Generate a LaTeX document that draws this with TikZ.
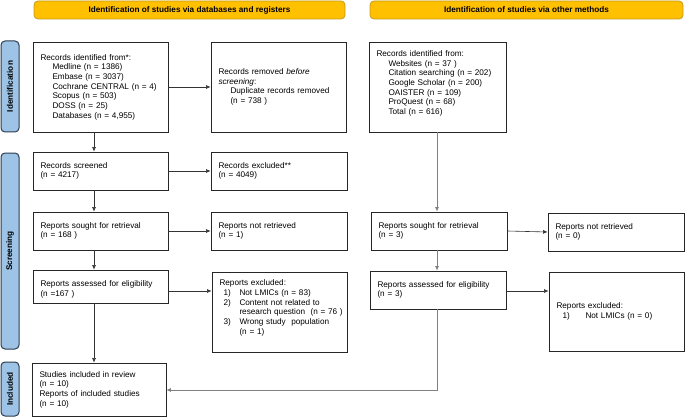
\documentclass[tikz,border=0pt]{standalone}
\usepackage{fontspec}
\setmainfont{Liberation Sans}
\usetikzlibrary{arrows.meta}
\definecolor{gold}{HTML}{FFC000}
\definecolor{goldline}{HTML}{C49A1A}
\definecolor{sideblue}{HTML}{9DC3E6}
\definecolor{sideline}{HTML}{2E3B4E}
\newcommand\fs{\fontsize{8.2}{9.7}\selectfont}
\newcommand\ind{\hspace*{12pt}}
\newcommand\pbox[6]{%
  \pgfmathsetmacro\bw{#4-#2}\pgfmathsetmacro\bh{#5-#3}%
  \pgfmathsetmacro\bcx{(#2+#4)/2}\pgfmathsetmacro\bcy{(#3+#5)/2}%
  \pgfmathsetmacro\tw{#4-#2-15}%
  \node[box,minimum width=\bw pt,minimum height=\bh pt,text width=\tw pt] (#1) at (\bcx,\bcy) {#6};}
\begin{document}
\begin{tikzpicture}[x=1pt,y=-1pt,
  box/.style={draw=black!85,line width=0.8pt,inner xsep=7pt,inner ysep=0pt,align=left,font=\fs},
  banner/.style={draw=goldline,fill=gold,line width=0.8pt,rounded corners=4pt,font=\fs\bfseries,inner sep=0pt},
  side/.style={draw=sideline,fill=sideblue,line width=1pt,rounded corners=4pt,font=\fs\bfseries,rotate=90,inner sep=0pt,minimum height=18pt},
  arr/.style={draw=black!80,line width=0.6pt,-{Latex[length=4.5pt,width=4pt]}},
  arrg/.style={draw=black!50,line width=0.7pt,-{Latex[length=4.5pt,width=4pt]}}]
\useasboundingbox (0,0) rectangle (685,417);
% banners
\node[banner,minimum width=311pt,minimum height=18pt] (ban1) at (189.5,10) {Identification of studies via databases and registers};
\node[banner,minimum width=313pt,minimum height=18pt] (ban2) at (526.5,10) {Identification of studies via other methods};
% side labels
\node[side,minimum width=91pt] (sid1) at (10,86.5) {Identification};
\node[side,minimum width=196pt] (sid2) at (10,251) {Screening};
\node[side,minimum width=54pt] (sid3) at (10,389) {Included};
% left column
\pbox{recA}{33}{42}{168}{132}{Records identified from*:\\\ind Medline (n = 1386)\\\ind Embase (n = 3037)\\\ind Cochrane CENTRAL (n = 4)\\\ind Scopus (n = 503)\\\ind DOSS (n = 25)\\\ind Databases (n = 4,955)}
\pbox{remB}{211}{42}{346}{132}{Records removed \textit{before}\\\textit{screening}:\\\ind Duplicate records removed\\\ind (n = 738 )}
\pbox{scr}{33}{152}{168}{190}{Records screened\\(n = 4217)}
\pbox{exc}{211}{152}{347}{190}{Records excluded**\\(n = 4049)}
\pbox{sou}{33}{212}{168}{250}{Reports sought for retrieval\\(n = 168 )}
\pbox{nre}{211}{212}{347}{250}{Reports not retrieved\\(n = 1)}
\pbox{ass}{33}{270}{168}{303}{\rule{0pt}{11pt}Reports assessed for eligibility\\(n =167 )}
\pbox{rex}{212}{272}{347}{352}{Reports excluded:\\\hspace*{4pt}\makebox[16pt][l]{1)}Not LMICs (n = 83)\\\hspace*{4pt}\makebox[16pt][l]{2)}Content not related to\\\mbox{\hspace*{20pt}research question\ \ (n = 76 )}\\\hspace*{4pt}\makebox[16pt][l]{3)}Wrong study\ \ population\\\hspace*{20pt}(n = 1)\rule[-10pt]{0pt}{10pt}}
\pbox{inc}{32}{363}{166}{416}{Studies included in review\\(n = 10)\\Reports of included studies\\(n = 10)}
% right column
\pbox{oRec}{369}{42}{506}{132}{Records identified from:\\\ind Websites (n = 37 )\\\ind Citation searching (n = 202)\\\ind Google Scholar (n = 200)\\\ind OAISTER (n = 109)\\\ind ProQuest (n = 68)\\\ind Total (n = 616)\rule[-9pt]{0pt}{9pt}}
\pbox{oSou}{371}{212}{507}{250}{Reports sought for retrieval\\(n = 3)}
\pbox{oNre}{548}{213}{684}{251}{Reports not retrieved\\(n = 0)}
\pbox{oAss}{370}{271}{506}{309}{Reports assessed for eligibility\\(n = 3)}
\pbox{oExc}{549}{272}{684}{351}{Reports excluded:\\\hspace*{6pt}\makebox[23pt][l]{1)}Not LMICs (n = 0)}
% helper coordinates
\coordinate (lx) at (94,0);
\coordinate (rx) at (437,0);
\coordinate (hy) at (0,291);
\coordinate (turn) at (437,390);
% connectors left
\draw[arr] (recA.east) -- (remB.west);
\draw[arr] (recA.south -| lx) -- (scr.north -| lx);
\draw[arr] (scr.east) -- (exc.west);
\draw[arr] (scr.south -| lx) -- (sou.north -| lx);
\draw[arr] (sou.east) -- (nre.west);
\draw[arr] (sou.south -| lx) -- (ass.north -| lx);
\draw[arr] (ass.east |- hy) -- (rex.west |- hy);
\draw[arr] (ass.south -| lx) -- (inc.north -| lx);
% connectors right
\draw[arrg] (oRec.south -| rx) -- (oSou.north -| rx);
\draw[arr] (oSou.east) -- (oNre.west);
\draw[arrg] (oSou.south -| rx) -- (oAss.north -| rx);
\draw[arr] (oAss.east |- hy) -- (oExc.west |- hy);
\draw[arrg] (oAss.south -| rx) -- (turn) -- (inc.east |- turn);
\end{tikzpicture}
\end{document}
